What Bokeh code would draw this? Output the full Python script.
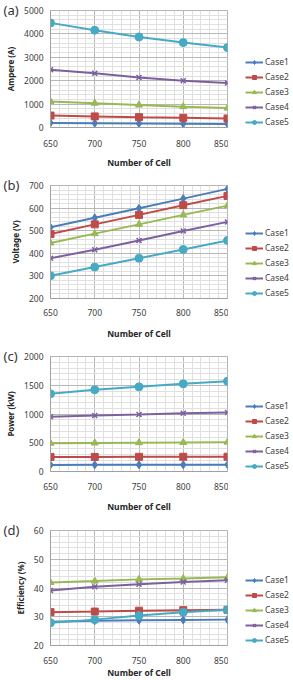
from bokeh.plotting import figure
from bokeh.layouts import column, row
from bokeh.models import Legend, LegendItem, Title, SingleIntervalTicker, Range1d
from bokeh.embed import file_html
from bokeh.resources import INLINE

# x values shared by every panel
cells = [650, 700, 750, 800, 850]
case_names = ["Case1", "Case2", "Case3", "Case4", "Case5"]

# (a) current per case
ampere = [
    [197, 183, 172, 161, 152],
    [510, 474, 443, 414, 384],
    [1114, 1040, 960, 890, 829],
    [2471, 2314, 2140, 2000, 1900],
    [4471, 4157, 3871, 3629, 3414],
]
# (b) voltage per case
voltage = [
    [515, 557, 599, 642, 685],
    [485, 528, 570, 613, 654],
    [446, 487, 528, 570, 611],
    [378, 416, 457, 499, 539],
    [301, 339, 378, 417, 457],
]
# (c) power per case
power = [
    [115, 116, 116, 117, 118],
    [253, 254, 255, 256, 256],
    [493, 497, 501, 505, 510],
    [951, 974, 991, 1014, 1026],
    [1351, 1420, 1472, 1525, 1571],
]
# (d) efficiency per case
efficiency = [
    [28.3, 28.6, 28.8, 28.9, 29.0],
    [31.6, 31.8, 32.1, 32.3, 32.4],
    [41.9, 42.4, 43.0, 43.3, 43.7],
    [39.1, 40.4, 41.3, 42.1, 42.7],
    [27.9, 29.0, 30.4, 31.6, 32.4],
]

colors = ["#4a7ebb", "#be4b48", "#98b954", "#7d60a0", "#46aac5"]
markers = ["diamond", "square", "triangle", "x", "circle"]
marker_sizes = [8, 7, 7, 7, 8]

FONT = "Noto Sans"
PLOT_W, LEG_W = 228, 65
LEFT = 50


def draw_series(fig, series):
    out = []
    for name, vals, c, m, s in zip(case_names, series, colors, markers, marker_sizes):
        ln = fig.line(cells, vals, line_color=c, line_width=2)
        mk = fig.scatter(cells, vals, marker=m, size=s, fill_color=c, line_color=c,
                         line_width=1.5 if m == "x" else 1)
        out.append(LegendItem(label=name, renderers=[ln, mk]))
    return out


def panel(tag, series, ylabel, y0, y1, ystep, height, top, bottom, tick_standoff, label_standoff):
    # panel letter drawn as a left-aligned title pulled into the top-left corner
    tag_title = Title(text=tag, align="left", offset=-47, standoff=-16,
                      text_font=FONT, text_font_size="13px", text_font_style="normal",
                      text_color="#333333")
    p = figure(width=PLOT_W, height=height, output_backend="svg", toolbar_location=None,
               x_range=Range1d(650, 850), y_range=Range1d(y0, y1),
               min_border_left=LEFT, min_border_right=1,
               min_border_top=top, min_border_bottom=bottom, title=tag_title)
    p.outline_line_color = "#b5b5b5"
    p.border_fill_color = "white"

    p.xaxis.ticker = SingleIntervalTicker(interval=50, num_minor_ticks=5)
    p.yaxis.ticker = SingleIntervalTicker(interval=ystep, num_minor_ticks=5)
    for g in (p.xgrid, p.ygrid):
        g.grid_line_color = "#b8b8b8"
        g.minor_grid_line_color = "#e0e0e0"

    for ax in (p.xaxis, p.yaxis):
        ax.axis_line_color = "#a0a0a0"
        ax.major_tick_line_color = None
        ax.minor_tick_line_color = None
        ax.major_tick_out = 0
        ax.minor_tick_out = 0
        ax.major_label_text_font = FONT
        ax.major_label_text_font_size = "8.5px"
        ax.major_label_text_color = "#404040"
        ax.axis_label_text_font = FONT
        ax.axis_label_text_font_style = "bold"
        ax.axis_label_text_color = "#262626"

    p.xaxis.axis_label = "Number of Cell"
    p.xaxis.axis_label_text_font_size = "8.5px"
    p.xaxis.major_label_standoff = tick_standoff
    p.xaxis.axis_label_standoff = label_standoff
    p.yaxis.axis_label = ylabel
    p.yaxis.axis_label_text_font_size = "8px"
    p.yaxis.major_label_standoff = 7
    p.yaxis.axis_label_standoff = 5

    draw_series(p, series)

    # side strip holding the legend; its ranges keep the sample glyphs out of view
    lf = figure(width=LEG_W, height=height, output_backend="svg", toolbar_location=None,
                x_range=Range1d(0, 1), y_range=Range1d(0, 1), min_border=0)
    lf.axis.visible = False
    lf.grid.visible = False
    lf.outline_line_color = None
    legend = Legend(items=draw_series(lf, series), location=(17, 0),
                    glyph_width=18, glyph_height=10, label_height=10,
                    label_standoff=2, spacing=4, padding=0, margin=0,
                    label_text_font=FONT, label_text_font_size="8.5px",
                    label_text_color="#404040",
                    background_fill_alpha=0, border_line_alpha=0)
    lf.add_layout(legend)
    return row(p, lf, spacing=0)


pa = panel("(a)", ampere, "Ampere (A)", 0, 5000, 1000, 170, 10, 43, 12, 7)
pb = panel("(b)", voltage, "Voltage (V)", 200, 700, 100, 172, 15, 44, 10, 9)
pc = panel("(c)", power, "Power (kW)", 0, 2000, 500, 172, 14, 43, 11, 8)
pd = panel("(d)", efficiency, "Efficiency (%)", 20, 60, 10, 166, 16, 35, 11, 0)

layout = column(pa, pb, pc, pd, spacing=0)
open("out.html", "w").write(file_html(layout, INLINE))
